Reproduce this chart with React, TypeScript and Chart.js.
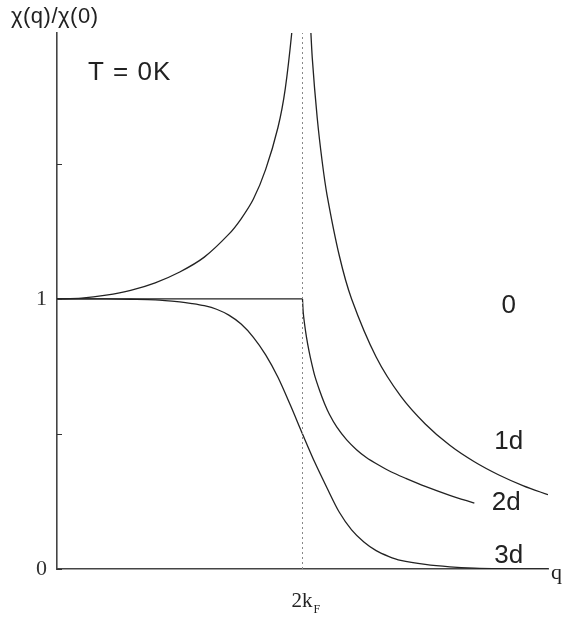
import React, { useEffect, useRef } from 'react';
import { Chart, registerables } from 'chart.js';

Chart.register(...registerables);

// ---- data (x in units of 2kF, y = chi(q)/chi(0)) ----
const yTickValues = [0, 0.5, 1, 1.5];
const yTickLabels = ['0', '', '1', ''];
const xTickValues = [1];
const xTickMain = '2k';
const xTickSub = 'F';

const q1dLeft = [0, 0.1, 0.2, 0.3, 0.4, 0.5, 0.6, 0.7, 0.75, 0.8, 0.85, 0.9, 0.93, 0.96, 0.97];
const chi1dLeft = [1.0, 1.003, 1.014, 1.032, 1.06, 1.1, 1.155, 1.24, 1.297, 1.37, 1.48, 1.635, 1.78, 2.02, 2.15];

const q1dRight = [1.025, 1.03, 1.04, 1.06, 1.08, 1.1, 1.15, 1.2, 1.3, 1.4, 1.5, 1.6, 1.7, 1.8, 1.9, 2.0];
const chi1dRight = [2.2, 2.07, 1.89, 1.67, 1.51, 1.385, 1.16, 1.0, 0.785, 0.64, 0.537, 0.458, 0.397, 0.348, 0.308, 0.275];

const q2dFlat = [0, 1];
const chi2dFlat = [1, 1];
const q2dDrop = [1.0, 1.003, 1.008, 1.016, 1.027, 1.037, 1.05, 1.07, 1.09, 1.11, 1.14, 1.18, 1.22, 1.26, 1.31, 1.36, 1.42, 1.5, 1.6, 1.7];
const chi2dDrop = [1, 0.95, 0.91, 0.86, 0.805, 0.763, 0.715, 0.66, 0.612, 0.572, 0.525, 0.478, 0.442, 0.413, 0.385, 0.36, 0.336, 0.306, 0.273, 0.244];

const q3d = [0, 0.2, 0.3, 0.4, 0.5, 0.55, 0.6, 0.65, 0.7, 0.75, 0.8, 0.85, 0.9, 0.95, 1.0, 1.05, 1.1, 1.15, 1.2, 1.25, 1.3, 1.35, 1.4, 1.5, 1.6, 1.7, 1.8, 2.0];
const chi3d = [1, 1, 0.999, 0.997, 0.989, 0.983, 0.975, 0.962, 0.94, 0.907, 0.858, 0.793, 0.71, 0.608, 0.5, 0.395, 0.3, 0.21, 0.145, 0.1, 0.068, 0.047, 0.032, 0.017, 0.008, 0.003, 0.001, 0];

const guideQ = [1, 1];
const guideChi = [0, 2];

const curveLabels = [
  { text: '0', x: 1.84, y: 0.975 },
  { text: '1d', x: 1.84, y: 0.47 },
  { text: '2d', x: 1.83, y: 0.245 },
  { text: '3d', x: 1.84, y: 0.05 },
];

const pts = (xs: number[], ys: number[]) => xs.map((x, i) => ({ x, y: ys[i] }));

const SANS = '"Liberation Sans", Arial, sans-serif';
const SERIF = '"Liberation Serif", "Times New Roman", serif';

const textPlugin = {
  id: 'texts',
  afterDraw(chart: any) {
    const ctx = chart.ctx;
    const xs = chart.scales.x;
    const ys = chart.scales.y;
    ctx.save();
    // minor inward ticks on y axis
    ctx.strokeStyle = '#333';
    ctx.lineWidth = 1;
    yTickValues.forEach((v) => {
      const py = Math.round(ys.getPixelForValue(v)) + 0.5;
      ctx.beginPath();
      ctx.moveTo(xs.left, py);
      ctx.lineTo(xs.left + 5, py);
      ctx.stroke();
    });
    // y axis title
    ctx.fillStyle = '#222';
    ctx.font = `22px ${SANS}`;
    ctx.textAlign = 'left';
    ctx.textBaseline = 'alphabetic';
    (ctx as any).letterSpacing = '0.5px';
    ctx.fillText('χ(q)/χ(0)', 11, 23);
    // T = 0K
    ctx.font = `26px ${SANS}`;
    (ctx as any).letterSpacing = '1px';
    ctx.fillText('T = 0K', 88, 80);
    (ctx as any).letterSpacing = '0px';
    // curve labels
    ctx.font = `26px ${SANS}`;
    ctx.textAlign = 'center';
    ctx.textBaseline = 'middle';
    curveLabels.forEach((l) => {
      ctx.fillText(l.text, xs.getPixelForValue(l.x), ys.getPixelForValue(l.y));
    });
    // x tick label 2k_F
    xTickValues.forEach((v) => {
      const px = xs.getPixelForValue(v);
      ctx.font = `21px ${SERIF}`;
      ctx.textAlign = 'right';
      ctx.textBaseline = 'alphabetic';
      ctx.fillText(xTickMain, px + 10, ys.bottom + 38);
      ctx.font = `12px ${SERIF}`;
      ctx.textAlign = 'left';
      ctx.fillText(xTickSub, px + 11, ys.bottom + 44);
    });
    // q axis label
    ctx.font = `22px ${SERIF}`;
    ctx.textAlign = 'left';
    ctx.textBaseline = 'middle';
    ctx.fillText('q', xs.right + 3, ys.bottom + 4);
    ctx.restore();
  },
};

export default function App() {
  const ref = useRef<HTMLCanvasElement | null>(null);
  useEffect(() => {
    if (!ref.current) return;
    const line = (data: any[], extra: any = {}) => ({
      data,
      borderColor: '#222',
      borderWidth: 1.3,
      pointRadius: 0,
      fill: false,
      tension: 0.3,
      ...extra,
    });
    const chart = new Chart(ref.current, {
      type: 'line',
      data: {
        datasets: [
          line(pts(guideQ, guideChi), { borderColor: '#888', borderWidth: 1, borderDash: [2, 3], tension: 0 }),
          line(pts(q1dLeft, chi1dLeft)),
          line(pts(q1dRight, chi1dRight)),
          line(pts(q2dFlat, chi2dFlat), { tension: 0 }),
          line(pts(q2dDrop, chi2dDrop)),
          line(pts(q3d, chi3d)),
        ] as any,
      },
      options: {
        animation: false,
        responsive: false,
        maintainAspectRatio: false,
        events: [],
        layout: { padding: { left: 0, right: 18, top: 33, bottom: 0 } },
        plugins: { legend: { display: false }, tooltip: { enabled: false }, title: { display: false } },
        scales: {
          x: {
            type: 'linear',
            min: 0,
            max: 2,
            grid: { display: false, drawTicks: false },
            border: { display: true, color: '#444', width: 1.6 },
            ticks: { display: false },
            afterFit: (s: any) => { s.height = 50; },
          },
          y: {
            type: 'linear',
            min: 0,
            max: 1.985,
            grid: { display: false, drawTicks: false },
            border: { display: true, color: '#444', width: 1.6 },
            afterBuildTicks: (s: any) => { s.ticks = yTickValues.map((v) => ({ value: v })); },
            ticks: {
              padding: 10,
              color: '#333',
              font: { family: SERIF, size: 22 },
              callback: (v: any) => {
                const i = yTickValues.indexOf(Number(v));
                return i >= 0 ? yTickLabels[i] : '';
              },
            },
            afterFit: (s: any) => { s.width = 57; },
          },
        },
      } as any,
      plugins: [textPlugin],
    });
    return () => chart.destroy();
  }, []);
  return (
    <div style={{ position: 'fixed', left: 0, top: 0, width: 566, height: 619, background: '#fff' }}>
      <canvas ref={ref} width={566} height={619} style={{ width: 566, height: 619 }} />
    </div>
  );
}
